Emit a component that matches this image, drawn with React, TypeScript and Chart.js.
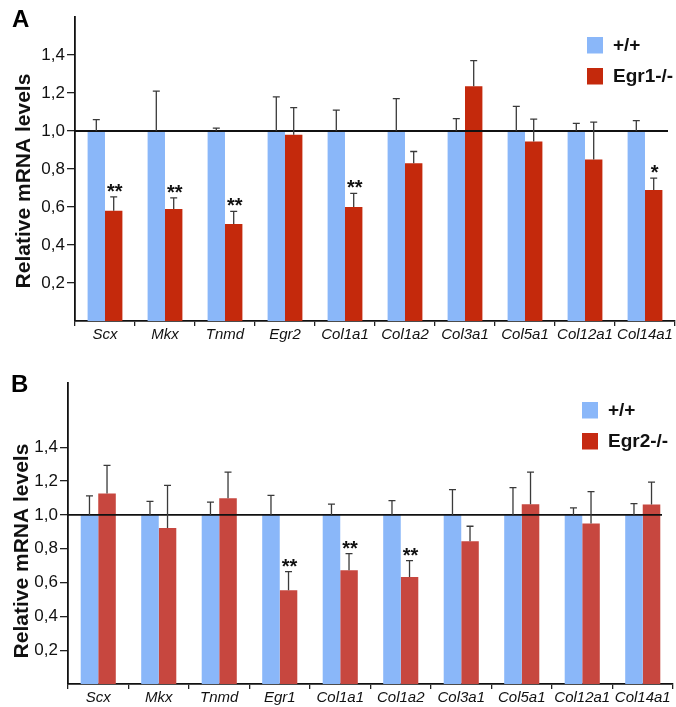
import React, { useEffect, useRef } from "react";
import { Chart, registerables } from "chart.js";

Chart.register(...registerables);

// ---------- data ----------
const categoriesA = ["Scx", "Mkx", "Tnmd", "Egr2", "Col1a1", "Col1a2", "Col3a1", "Col5a1", "Col12a1", "Col14a1"];
const wildTypeA = [1, 1, 1, 1, 1, 1, 1, 1, 1, 1];
const wildTypeErrA = [0.06, 0.21, 0.015, 0.18, 0.11, 0.17, 0.065, 0.13, 0.04, 0.055];
const egr1KO = [0.58, 0.59, 0.51, 0.98, 0.6, 0.83, 1.235, 0.945, 0.85, 0.69];
const egr1KOErr = [0.073, 0.058, 0.067, 0.143, 0.072, 0.062, 0.135, 0.117, 0.197, 0.062];
const starsA = ["**", "**", "**", "", "**", "", "", "", "", "*"];

const categoriesB = ["Scx", "Mkx", "Tnmd", "Egr1", "Col1a1", "Col1a2", "Col3a1", "Col5a1", "Col12a1", "Col14a1"];
const wildTypeB = [1, 1, 1, 1, 1, 1, 1, 1, 1, 1];
const wildTypeErrB = [0.112, 0.08, 0.076, 0.116, 0.064, 0.084, 0.149, 0.161, 0.041, 0.067];
const egr2KO = [1.126, 0.923, 1.098, 0.555, 0.673, 0.633, 0.844, 1.063, 0.949, 1.061];
const egr2KOErr = [0.167, 0.252, 0.155, 0.11, 0.098, 0.097, 0.089, 0.19, 0.189, 0.133];
const starsB = ["", "", "", "**", "**", "**", "", "", "", ""];

const yTickValues = [0.2, 0.4, 0.6, 0.8, 1.0, 1.2, 1.4];
const referenceLevel = 1.0;
const yTitle = "Relative mRNA levels";
const legendLabelsA = ["+/+", "Egr1-/-"];
const legendLabelsB = ["+/+", "Egr2-/-"];

// ---------- styles ----------
const FONT = "'Liberation Sans', Arial, Helvetica, sans-serif";
const BLUE = "#8AB7F9";
const RED_A = "#C4290C";
const RED_B = "#C7473F";
const RED_LEGEND_B = "#C62A12";

type PanelCfg = {
  letter: string;
  top: number;
  height: number;
  categories: string[];
  wt: number[];
  wtErr: number[];
  ko: number[];
  koErr: number[];
  stars: string[];
  red: string;
  legendRed: string;
  legendLabels: string[];
  yMax: number;
  yAxisWidth: number;
  padTop: number;
  padRight: number;
  xAxisHeight: number;
  refLineRightGap: number;
  titleX: number;
  titleY: number;
  letterX: number;
  letterY: number;
  legendX: number;
  legendY1: number;
  legendY2: number;
};

const panels: PanelCfg[] = [
  {
    letter: "A", top: 0, height: 352,
    categories: categoriesA, wt: wildTypeA, wtErr: wildTypeErrA, ko: egr1KO, koErr: egr1KOErr, stars: starsA,
    red: RED_A, legendRed: RED_A, legendLabels: legendLabelsA,
    yMax: 1.6, yAxisWidth: 75, padTop: 17, padRight: 1, xAxisHeight: 31,
    refLineRightGap: 7, titleX: 24, titleY: 181, letterX: 12, letterY: 27,
    legendX: 587, legendY1: 37, legendY2: 68,
  },
  {
    letter: "B", top: 356, height: 351,
    categories: categoriesB, wt: wildTypeB, wtErr: wildTypeErrB, ko: egr2KO, koErr: egr2KOErr, stars: starsB,
    red: RED_B, legendRed: RED_LEGEND_B, legendLabels: legendLabelsB,
    yMax: 1.78, yAxisWidth: 68, padTop: 27, padRight: 3, xAxisHeight: 23,
    refLineRightGap: 11, titleX: 22.5, titleY: 195, letterX: 11, letterY: 36,
    legendX: 582, legendY1: 46, legendY2: 77,
  },
];

function Panel({ cfg }: { cfg: PanelCfg }) {
  const ref = useRef<HTMLCanvasElement | null>(null);

  useEffect(() => {
    if (!ref.current) return;
    const overlay = {
      id: "overlay" + cfg.letter,
      afterDatasetsDraw(chart: any) {
        const ctx = chart.ctx;
        const y = chart.scales.y;
        const area = chart.chartArea;
        ctx.save();
        // reference line at 1.0
        const yr = y.getPixelForValue(referenceLevel);
        ctx.strokeStyle = "#111";
        ctx.lineWidth = 1.8;
        ctx.beginPath();
        ctx.moveTo(area.left, yr);
        ctx.lineTo(area.right - cfg.refLineRightGap, yr);
        ctx.stroke();
        // error bars
        const series = [
          { v: cfg.wt, e: cfg.wtErr },
          { v: cfg.ko, e: cfg.koErr },
        ];
        ctx.strokeStyle = "#3a3a3a";
        ctx.lineWidth = 1.3;
        series.forEach((s, di) => {
          const meta = chart.getDatasetMeta(di);
          meta.data.forEach((bar: any, j: number) => {
            const yTop = y.getPixelForValue(s.v[j] + s.e[j]);
            const yBase = y.getPixelForValue(s.v[j]);
            ctx.beginPath();
            ctx.moveTo(bar.x, yBase);
            ctx.lineTo(bar.x, yTop);
            ctx.moveTo(bar.x - 3.5, yTop);
            ctx.lineTo(bar.x + 3.5, yTop);
            ctx.stroke();
            if (di === 1 && cfg.stars[j]) {
              ctx.fillStyle = "#111";
              ctx.font = `bold 20px ${FONT}`;
              ctx.textAlign = "center";
              ctx.textBaseline = "alphabetic";
              ctx.fillText(cfg.stars[j], bar.x + 1, yTop + 1);
            }
          });
        });
        ctx.restore();
      },
      afterDraw(chart: any) {
        const ctx = chart.ctx;
        ctx.save();
        // panel letter
        ctx.fillStyle = "#000";
        ctx.font = `bold 24px ${FONT}`;
        ctx.textAlign = "left";
        ctx.textBaseline = "alphabetic";
        ctx.fillText(cfg.letter, cfg.letterX, cfg.letterY);
        // y title
        ctx.save();
        ctx.translate(cfg.titleX, cfg.titleY);
        ctx.rotate(-Math.PI / 2);
        ctx.font = `bold 21px ${FONT}`;
        ctx.textAlign = "center";
        ctx.textBaseline = "middle";
        ctx.fillStyle = "#111";
        ctx.fillText(yTitle, 0, 0);
        ctx.restore();
        // legend
        const items = [
          { c: BLUE, t: cfg.legendLabels[0], y: cfg.legendY1 },
          { c: cfg.legendRed, t: cfg.legendLabels[1], y: cfg.legendY2 },
        ];
        items.forEach((it) => {
          ctx.fillStyle = it.c;
          ctx.fillRect(cfg.legendX, it.y, 16, 16.5);
          ctx.fillStyle = "#111";
          ctx.font = `bold 19px ${FONT}`;
          ctx.textAlign = "left";
          ctx.textBaseline = "middle";
          ctx.fillText(it.t, cfg.legendX + 26, it.y + 9);
        });
        ctx.restore();
      },
    };

    const chart = new Chart(ref.current, {
      type: "bar",
      data: {
        labels: cfg.categories,
        datasets: [
          { label: cfg.legendLabels[0], data: cfg.wt, backgroundColor: BLUE, borderWidth: 0 },
          { label: cfg.legendLabels[1], data: cfg.ko, backgroundColor: cfg.red, borderWidth: 0 },
        ],
      },
      options: {
        animation: false,
        responsive: false,
        maintainAspectRatio: false,
        layout: { padding: { left: 0, right: cfg.padRight, top: cfg.padTop, bottom: 0 } },
        plugins: { legend: { display: false }, tooltip: { enabled: false } },
        datasets: { bar: { categoryPercentage: 0.58, barPercentage: 1 } },
        scales: {
          x: {
            offset: true,
            grid: {
              display: true,
              offset: true,
              drawOnChartArea: false,
              drawTicks: true,
              tickLength: 5,
              color: "#222",
              lineWidth: 1.3,
            },
            border: { display: true, color: "#111", width: 1.8 },
            ticks: {
              autoSkip: false,
              maxRotation: 0,
              padding: 1,
              color: "#111",
              font: { family: FONT, size: 15, style: "italic", lineHeight: 1.0 },
            },
            afterFit: (s: any) => {
              s.height = cfg.xAxisHeight;
              s.paddingLeft = 0;
              s.paddingRight = 0;
            },
          },
          y: {
            min: 0,
            max: cfg.yMax,
            afterBuildTicks: (s: any) => {
              s.ticks = yTickValues.map((v) => ({ value: v }));
            },
            grid: {
              display: true,
              drawOnChartArea: false,
              drawTicks: true,
              tickLength: 8,
              color: "#222",
              lineWidth: 1.3,
            },
            border: { display: true, color: "#111", width: 1.8 },
            ticks: {
              padding: 2,
              color: "#111",
              font: { family: FONT, size: 17 },
              callback: (v: any) => Number(v).toFixed(1).replace(".", ","),
            },
            afterFit: (s: any) => {
              s.width = cfg.yAxisWidth;
              s.paddingTop = 0;
              s.paddingBottom = 0;
            },
          },
        },
      },
      plugins: [overlay],
    } as any);
    return () => chart.destroy();
  }, [cfg]);

  return (
    <div style={{ position: "absolute", left: 0, top: cfg.top, width: 676, height: cfg.height }}>
      <canvas ref={ref} width={676} height={cfg.height} style={{ width: 676, height: cfg.height, display: "block" }} />
    </div>
  );
}

export default function App() {
  return (
    <div style={{ position: "absolute", left: 0, top: 0, width: 676, height: 707, background: "#fff", overflow: "hidden" }}>
      {panels.map((p) => (
        <Panel key={p.letter} cfg={p} />
      ))}
    </div>
  );
}
